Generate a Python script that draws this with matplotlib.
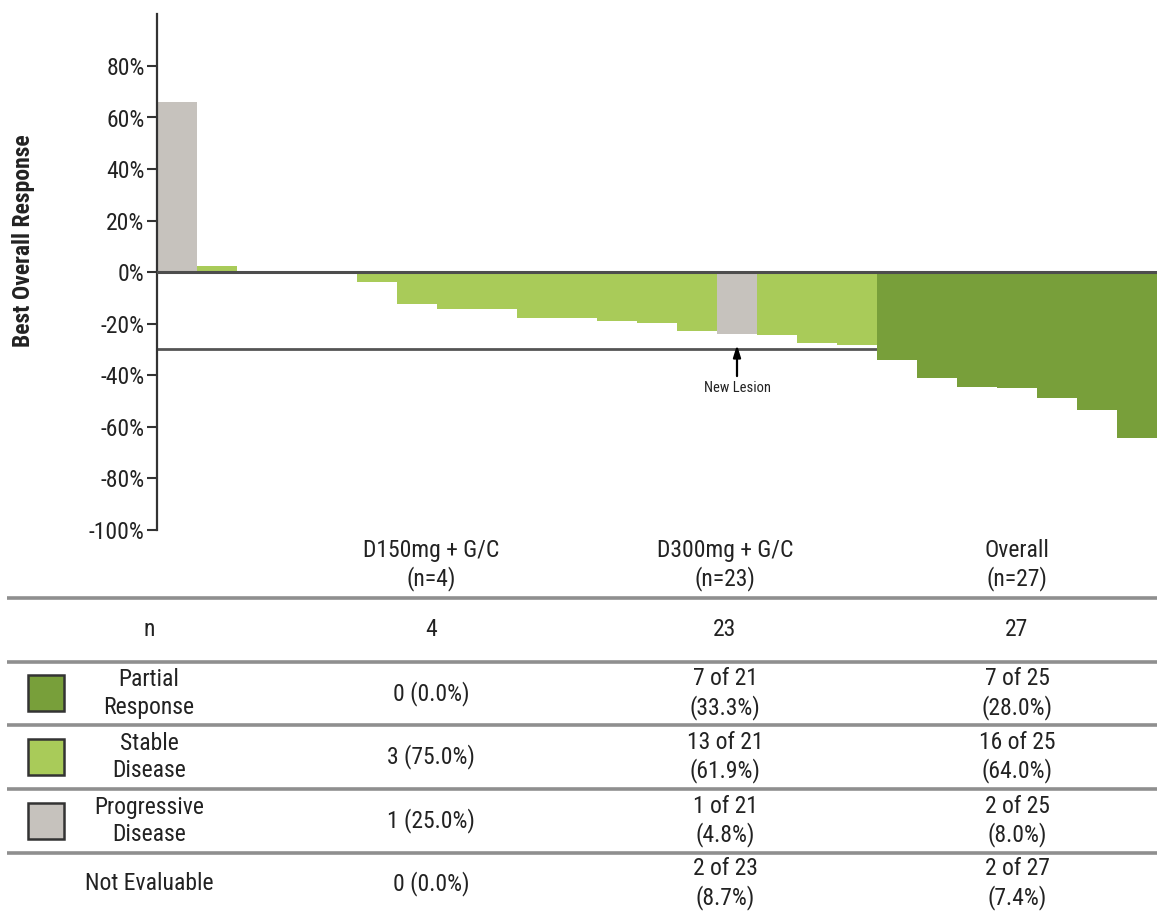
import matplotlib
matplotlib.use('Agg')
import matplotlib.pyplot as plt
from matplotlib.patches import Rectangle
import numpy as np

plt.rcParams['font.family'] = ['Roboto Condensed', 'PT Sans Narrow',
                               'IBM Plex Sans Condensed', 'DejaVu Sans']
plt.rcParams['text.color'] = '#222222'

# --- waterfall data (best % change, one bar per evaluable patient) ---
response = [66.1, 2.4, 0.0, 0.0, 0.0, -3.8, -12.6, -14.3, -14.4, -17.7,
            -18.0, -18.9, -19.7, -22.9, -24.1, -24.5, -27.4, -28.3,
            -34.2, -41.3, -44.5, -45.2, -49.1, -53.6, -64.6]
category = (['PD'] + ['SD'] * 13 + ['PD'] + ['SD'] * 3 + ['PR'] * 7)
new_lesion_patient = 14
threshold = -30

yticks = list(range(-100, 81, 20))

colors = {'PR': '#789f3a', 'SD': '#a9cb59', 'PD': '#c6c2bd'}

# --- table data ---
row_labels = ['n', 'Partial\nResponse', 'Stable\nDisease',
              'Progressive\nDisease', 'Not Evaluable']
row_keys = [None, 'PR', 'SD', 'PD', None]
col_headers = ['D150mg + G/C\n(n=4)', 'D300mg + G/C\n(n=23)', 'Overall\n(n=27)']
d150 = ['4', '0 (0.0%)', '3 (75.0%)', '1 (25.0%)', '0 (0.0%)']
d300 = ['23', '7 of 21\n(33.3%)', '13 of 21\n(61.9%)', '1 of 21\n(4.8%)',
        '2 of 23\n(8.7%)']
overall = ['27', '7 of 25\n(28.0%)', '16 of 25\n(64.0%)', '2 of 25\n(8.0%)',
           '2 of 27\n(7.4%)']

W, H = 1157, 913
fig = plt.figure(figsize=(W / 100, H / 100), dpi=100)

# === waterfall plot ===
ax = fig.add_axes([157 / W, 1 - 529.5 / H, 1000 / W, 515 / H], zorder=2)
x = np.arange(len(response))
ax.bar(x, response, width=1.0, color=[colors[c] for c in category],
       linewidth=0, zorder=2)
ax.axhline(0, color='#4d4d4d', lw=2.2, zorder=3)
ax.axhline(threshold, color='#555555', lw=2, zorder=1)

ax.set_xlim(-0.5, len(response) - 0.5)
ax.set_ylim(-100, 100)
for s in ['top', 'right', 'bottom']:
    ax.spines[s].set_visible(False)
ax.spines['left'].set_linewidth(1.6)
ax.spines['left'].set_color('#333333')
ax.set_xticks([])
ax.set_yticks(yticks)
ax.set_yticklabels([f'{t}%' for t in yticks])
ax.tick_params(axis='y', length=7, width=1.5, color='#333333',
               labelsize=17, pad=2, labelcolor='#222222')
ax.patch.set_alpha(0)

ax.annotate('', xy=(new_lesion_patient, -27.3),
            xytext=(new_lesion_patient, -41.5),
            arrowprops=dict(arrowstyle='-|>,head_width=0.22,head_length=0.7',
                            color='black', lw=1.6))
ax.text(new_lesion_patient, -42.5, 'New Lesion', ha='center', va='top',
        fontsize=10.5)

fig.text(24 / W, 1 - 241 / H, 'Best Overall Response', rotation=90,
         ha='center', va='center', fontsize=17, fontweight='bold')

# === summary table (pixel coordinates) ===
tab = fig.add_axes([0, 0, 1, 1], zorder=1)
tab.set_xlim(0, W)
tab.set_ylim(H, 0)
tab.axis('off')

col_x = [149, 431, 725, 1017]
header_y = 565
row_lines = [598, 662, 725, 789, 853]
row_centers = [630, 693.5, 757, 821, 883.5]

for y in row_lines:
    tab.plot([7, W], [y, y], color='#8f8f8f', lw=2.6, solid_capstyle='butt')

for cx, head in zip(col_x[1:], col_headers):
    tab.text(cx, header_y, head, ha='center', va='center', fontsize=17,
             linespacing=1.25)

for i, (lab, key) in enumerate(zip(row_labels, row_keys)):
    cy = row_centers[i]
    tab.text(col_x[0], cy, lab, ha='center', va='center', fontsize=17,
             linespacing=1.25)
    if key is not None:
        tab.add_patch(Rectangle((28, cy - 18), 36, 36, facecolor=colors[key],
                                edgecolor='#333333', lw=1.8))
    for cx, col in zip(col_x[1:], [d150, d300, overall]):
        tab.text(cx, cy, col[i], ha='center', va='center', fontsize=17,
                 linespacing=1.25)

fig.savefig('out.png', dpi=100)
